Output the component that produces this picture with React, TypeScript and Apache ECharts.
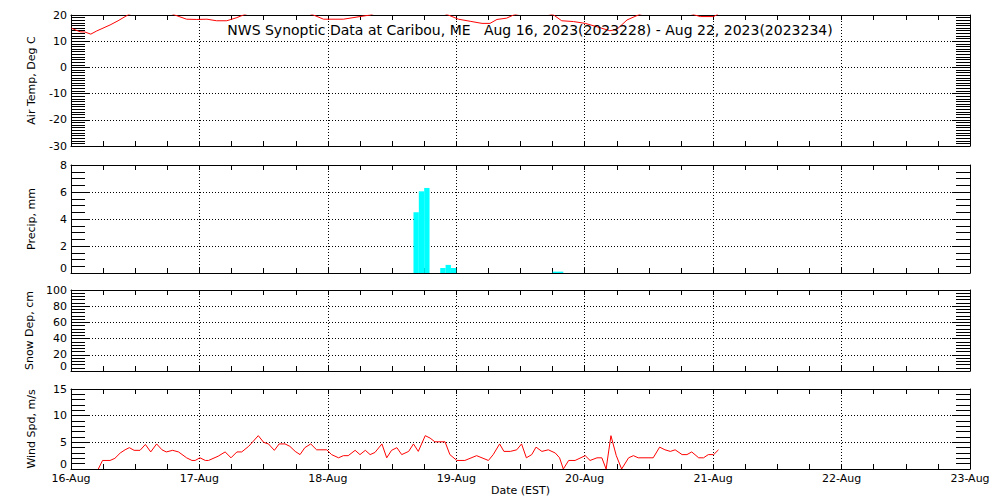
import React, { useEffect, useRef } from 'react';
import * as echarts from 'echarts';

// Hours since Aug 16 00:00 EST
const dayLabels = ['16-Aug', '17-Aug', '18-Aug', '19-Aug', '20-Aug', '21-Aug', '22-Aug', '23-Aug'];

const titleText = 'NWS Synoptic Data at Caribou, ME   Aug 16, 2023(2023228) - Aug 22, 2023(2023234)';

// [hour, deg C]  (values above 20 are clipped by the panel)
const airTemp: number[][] = [
  [0.1, 14.9], [1.7, 13.6], [2.6, 13.5], [3.7, 12.7], [4.8, 13.9], [7.3, 16.2], [8.8, 17.8], [10.7, 20.1],
  [15, 24], [19.4, 20], [21.6, 18.4], [23.5, 18.3], [25.4, 18.4], [27.2, 17.8], [29.1, 17.8], [31.0, 19],
  [32.2, 20], [39, 25], [45.3, 20], [47.2, 18.4], [50.9, 18.4], [54.0, 19.4], [55.9, 20], [63, 26],
  [70.5, 20], [72.4, 18.4], [74.6, 17.6], [76.8, 16.8], [78.3, 16.8], [79.6, 18.3], [81.4, 18.8], [82.7, 20],
  [86.5, 22], [90.2, 20], [91.7, 17.8], [93.9, 17.5], [96.1, 16.8], [98.3, 15.5], [100.7, 14.0], [102.0, 14.5],
  [103.9, 18.1], [106.0, 20], [111, 24], [116.6, 20], [117.6, 19.4], [120.1, 19.4], [121, 20.5],
];

// hourly precipitation, mm (start hour of each bar)
const precipHours = [64, 65, 66, 69, 70, 71, 90, 91];
const precipValues = [4.5, 6.05, 6.3, 0.37, 0.6, 0.37, 0.1, 0.1];

// snow depth, cm (no data)
const snowDepth: number[][] = [];

// [hour, m/s]
const windSpeed: number[][] = [
  [5.1, 0], [5.9, 1.6], [7.3, 1.6], [8.2, 2.0], [9.2, 3.0], [10.1, 3.6], [10.9, 4.0], [11.8, 3.5], [12.9, 3.5],
  [13.9, 4.6], [14.9, 3.2], [16.0, 4.7], [17.0, 3.6], [17.8, 3.2], [19.0, 3.5], [20.1, 3.2], [21.6, 2.1],
  [22.6, 1.6], [23.2, 1.6], [24.1, 2.1], [25.1, 1.6], [25.7, 1.6], [27.5, 2.4], [28.8, 3.2], [29.9, 2.1],
  [31.0, 3.2], [31.9, 3.2], [33.2, 4.25], [35.0, 6.25], [36.0, 5.0], [36.9, 4.7], [38.0, 3.5], [38.9, 4.7],
  [40.0, 4.7], [40.9, 4.25], [41.9, 3.3], [42.8, 2.7], [43.7, 4.0], [44.8, 4.7], [45.9, 3.6], [47.8, 3.6],
  [48.7, 2.7], [50.0, 2.1], [50.9, 2.5], [51.8, 2.5], [53.1, 3.5], [54.0, 2.7], [55.0, 3.5], [55.9, 2.7],
  [56.8, 3.1], [58.1, 4.7], [59.0, 2.1], [59.9, 3.5], [60.9, 4.0], [61.8, 2.7], [63.1, 3.3], [64.0, 4.7],
  [64.9, 3.3], [66.2, 6.25], [67.1, 5.8], [68.0, 5.1], [69.9, 5.1], [70.8, 2.7], [72.1, 1.6], [73.6, 1.6],
  [75.8, 2.5], [78.0, 1.6], [78.9, 2.7], [80.1, 4.7], [80.9, 3.3], [82.1, 3.3], [83.3, 3.6], [84.2, 4.7],
  [85.1, 2.1], [86.1, 2.7], [86.9, 4.1], [88.0, 3.3], [89.2, 3.6], [90.5, 3.0], [91.3, 2.1], [92.0, 0],
  [93.0, 1.6], [94.2, 1.6], [96.1, 2.5], [97.0, 1.6], [98.3, 2.1], [99.2, 2.1], [100.0, 0], [100.9, 6.25],
  [101.9, 2.5], [102.9, 0], [104.2, 2.1], [105.1, 2.5], [106.0, 2.1], [108.8, 2.1], [110.0, 4.1], [111.0, 3.6],
  [112.0, 3.3], [112.9, 3.6], [114.2, 2.7], [115.1, 2.7], [116.0, 3.2], [117.3, 2.1], [118.2, 2.1], [119.1, 2.7],
  [120.1, 2.7], [121.0, 3.6],
];

const panelNames = ['Air Temp, Deg C', 'Precip, mm', 'Snow Dep, cm', 'Wind Spd, m/s'];
const panelMin = [-30, 0, 0, 0];
const panelMax = [20, 8, 100, 15];
const panelInterval = [10, 2, 20, 5];
const panelMinorSplit = [10, 4, 5, 5];

const FONT = 'DejaVu Sans';

export default function App() {
  const ref = useRef<HTMLDivElement>(null);
  useEffect(() => {
    if (!ref.current) return;
    const chart = echarts.init(ref.current, undefined, { renderer: 'svg' });

    const grids = [
      { left: 71, right: 30, top: 15, height: 131 },
      { left: 71, right: 30, top: 165, height: 108 },
      { left: 71, right: 30, top: 290, height: 81 },
      { left: 71, right: 30, top: 389, height: 80 },
    ];

    const black = '#000';
    const xAxes: any[] = [];
    const yAxes: any[] = [];
    for (let i = 0; i < 4; i++) {
      xAxes.push({
        type: 'value', gridIndex: i, position: 'bottom', min: 0, max: 168, interval: 24,
        axisLine: { show: true, onZero: false, lineStyle: { color: black, width: 1 } },
        axisTick: { show: true, inside: true, length: 5, lineStyle: { color: black } },
        minorTick: { show: true, splitNumber: 4, length: 5, lineStyle: { color: black } },
        splitLine: { show: true, lineStyle: { color: black, width: 1, type: [1, 2] } },
        axisLabel: {
          show: i === 3, color: black, fontFamily: FONT, fontSize: 11, margin: 4,
          formatter: (v: number) => dayLabels[Math.round(v / 24)] ?? '',
          showMinLabel: true, showMaxLabel: true,
        },
        name: i === 3 ? 'Date (EST)' : '',
        nameLocation: 'middle', nameGap: 16,
        nameTextStyle: { color: black, fontFamily: FONT, fontSize: 11 },
      });
      xAxes.push({
        type: 'value', gridIndex: i, position: 'top', min: 0, max: 168, interval: 24,
        axisLine: { show: true, onZero: false, lineStyle: { color: black, width: 1 } },
        axisTick: { show: true, inside: true, length: 5, lineStyle: { color: black } },
        minorTick: { show: true, splitNumber: 4, length: 5, lineStyle: { color: black } },
        splitLine: { show: false },
        axisLabel: { show: false },
      });
      yAxes.push({
        type: 'value', gridIndex: i, position: 'left', min: panelMin[i], max: panelMax[i], interval: panelInterval[i],
        axisLine: { show: true, onZero: false, lineStyle: { color: black, width: 1 } },
        axisTick: { show: true, inside: true, length: 19, lineStyle: { color: black } },
        minorTick: { show: true, splitNumber: panelMinorSplit[i], length: 14, lineStyle: { color: black } },
        splitLine: { show: true, lineStyle: { color: black, width: 1, type: [1, 2] } },
        axisLabel: {
          show: true, color: black, fontFamily: FONT, fontSize: 11, lineHeight: 9, margin: 4,
          showMinLabel: true, showMaxLabel: true, hideOverlap: false,
          verticalAlignMinLabel: i === 0 ? 'middle' : 'bottom',
        },
        name: panelNames[i], nameLocation: 'middle', nameGap: 34, nameRotate: 90,
        nameTextStyle: { color: black, fontFamily: FONT, fontSize: 11 },
      });
      yAxes.push({
        type: 'value', gridIndex: i, position: 'right', min: panelMin[i], max: panelMax[i], interval: panelInterval[i],
        axisLine: { show: true, onZero: false, lineStyle: { color: black, width: 1 } },
        axisTick: { show: true, inside: true, length: 18, lineStyle: { color: black } },
        minorTick: { show: true, splitNumber: panelMinorSplit[i], length: 14, lineStyle: { color: black } },
        splitLine: { show: false },
        axisLabel: { show: false },
      });
    }

    const precipData = precipHours.map((h, k) => [h, precipValues[k]]);

    chart.setOption({
      animation: false,
      backgroundColor: '#fff',
      grid: grids,
      xAxis: xAxes,
      yAxis: yAxes,
      graphic: [
        {
          type: 'text', x: 530, y: 30, z: 100,
          style: {
            text: titleText, fill: black, font: `14px "${FONT}"`,
            textAlign: 'center', textVerticalAlign: 'middle',
          },
        },
      ],
      series: [
        {
          type: 'line', xAxisIndex: 0, yAxisIndex: 0, data: airTemp,
          symbol: 'none', showSymbol: false, clip: true,
          lineStyle: { color: '#ff0000', width: 1 },
        },
        {
          type: 'custom', xAxisIndex: 2, yAxisIndex: 2, data: precipData, clip: true,
          renderItem: (_params: any, api: any) => {
            const h = api.value(0);
            const v = api.value(1);
            const p0 = api.coord([h, v]);
            const p1 = api.coord([h + 1, 0]);
            return {
              type: 'rect',
              shape: { x: p0[0], y: p0[1], width: p1[0] - p0[0], height: p1[1] - p0[1] },
              style: { fill: '#00ffff' },
            };
          },
        },
        {
          type: 'line', xAxisIndex: 4, yAxisIndex: 4, data: snowDepth,
          symbol: 'none', showSymbol: false, lineStyle: { color: '#ff0000', width: 1 },
        },
        {
          type: 'line', xAxisIndex: 6, yAxisIndex: 6, data: windSpeed,
          symbol: 'none', showSymbol: false, clip: true,
          lineStyle: { color: '#ff0000', width: 1 },
        },
      ],
    });
    return () => chart.dispose();
  }, []);

  return (
    <div
      ref={ref}
      style={{ position: 'absolute', left: 0, top: 0, width: 1000, height: 500, background: '#fff' }}
    />
  );
}
